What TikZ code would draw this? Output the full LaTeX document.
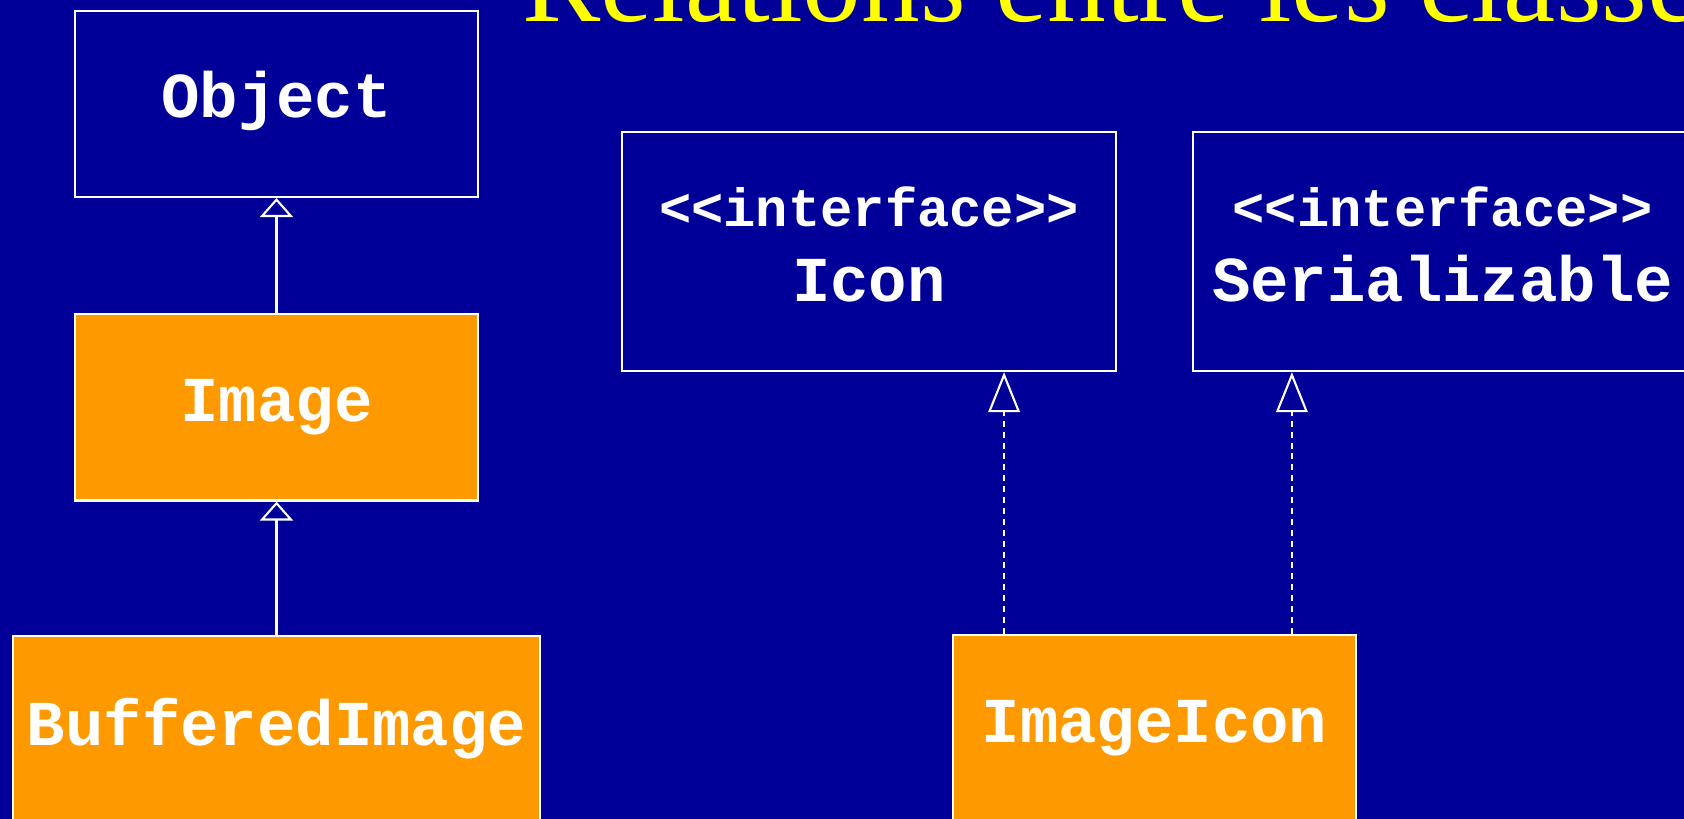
\documentclass[tikz,border=0pt]{standalone}
\usepackage{fontspec}
\setmainfont{Liberation Serif}
\setmonofont{Liberation Mono}
\usetikzlibrary{arrows.meta}
\definecolor{slideblue}{HTML}{000099}
\definecolor{classorange}{HTML}{FF9900}
\definecolor{titleyellow}{HTML}{FFFF00}
\newcommand\ifacetag[1]{{\fontsize{15.3}{18}\selectfont<<#1>>}}
\begin{document}
\begin{tikzpicture}[x=0.01cm,y=-0.01cm,line width=0.6pt,
        classbox/.style={draw=white,text=white,inner sep=0pt,align=center,
            font=\ttfamily\bfseries\fontsize{18.2}{21.3}\selectfont},
        plainclass/.style={classbox,fill=classorange,minimum width=4.03cm,minimum height=1.86cm},
        ifacebox/.style={classbox,minimum height=2.39cm,text depth=4pt},
        inherit/.style={draw=white,-{Triangle[open,width=9.4pt,length=5.4pt]}},
        realize/.style={draw=white,dash pattern=on 1.7pt off 1.4pt,-{Triangle[open,width=9pt,length=11.4pt]}}]
    \useasboundingbox (0,0) rectangle (1684,819);
    \clip (0,0) rectangle (1684,819);
    \fill[slideblue] (0,0) rectangle (1684,819);
    % title, cut by the top and right edges
    \node[anchor=base west,inner sep=0pt,text=titleyellow,font=\fontsize{33.4}{40}\selectfont] (title) at (521,22) {Relations entre les classes};
    % classes
    \node[classbox,minimum width=4.03cm,minimum height=1.86cm,text depth=5.5pt] (object) at (276.5,104) {Object};
    \node[plainclass] (image) at (276.5,407.5) {Image};
    \node[plainclass,minimum width=5.27cm] (buffered) at (276.5,729) {BufferedImage};
    \node[plainclass] (imageicon) at (1154.5,728) {ImageIcon};
    % interfaces
    \node[ifacebox,minimum width=4.94cm] (icon) at (869,251.5) {\ifacetag{interface}\\Icon};
    \node[ifacebox,minimum width=4.99cm] (serial) at (1442.5,251.5) {\ifacetag{interface}\\Serializable};
    % inheritance
    \draw[inherit] (image) -- (object);
    \draw[inherit] (buffered) -- (image);
    % realization
    \coordinate (icontip) at ([xshift=1.35cm]icon.south);
    \coordinate (serialtip) at ([xshift=-1.505cm]serial.south);
    \draw[realize] (icontip |- imageicon.north) -- (icontip);
    \draw[realize] (serialtip |- imageicon.north) -- (serialtip);
\end{tikzpicture}
\end{document}
